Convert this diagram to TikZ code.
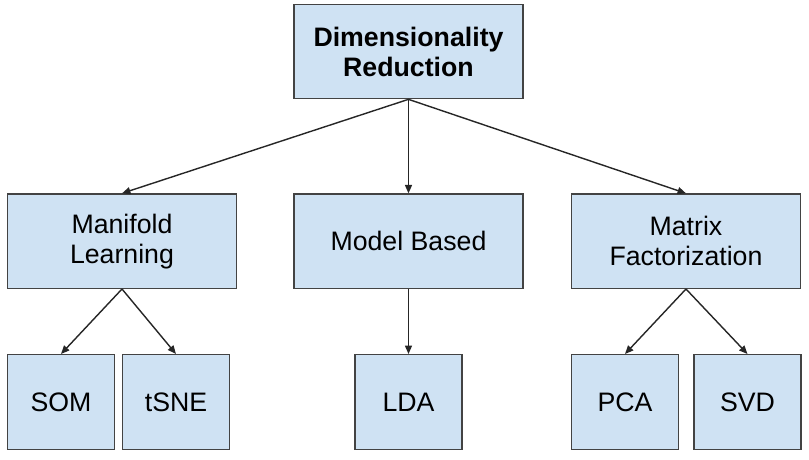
\documentclass[tikz,border=0pt]{standalone}
\usepackage{fontspec}
\setmainfont{Liberation Sans}
\usetikzlibrary{positioning,arrows.meta}
\definecolor{boxfill}{HTML}{CFE2F3}
\definecolor{boxline}{HTML}{434343}

\begin{document}
\begin{tikzpicture}[
    node distance=2.35cm,
    box/.style={draw=boxline, fill=boxfill, line width=0.9pt, minimum width=5.72cm,
      minimum height=2.36cm, align=center, inner sep=0pt,
      font=\fontsize{19}{21.3}\selectfont},
    leaf/.style={box, minimum width=2.68cm, minimum height=2.37cm},
    link/.style={draw=black!85, line width=1pt, -{Triangle[length=6pt,width=5pt]}}
  ]
      \useasboundingbox (-10.2125,1.2875) rectangle (10.0125,-10.1875);
      % Define nodes
      \node[box] (dr) {\textbf{Dimensionality}\\\textbf{Reduction}};
      \node[box, below=of dr] (model) {Model Based};
      \node[box, below=of dr, xshift=-7.1625cm] (manifold) {Manifold\\Learning};
      \node[box, below=of dr, xshift=6.9375cm] (matrix) {Matrix\\Factorization};
      \node[leaf, below=1.625cm of manifold, xshift=-1.525cm] (som) {SOM};
      \node[leaf, below=1.625cm of manifold, xshift=1.35cm] (tsne) {tSNE};
      \node[leaf, below=1.625cm of model] (lda) {LDA};
      \node[leaf, below=1.625cm of matrix, xshift=-1.525cm] (pca) {PCA};
      \node[leaf, below=1.625cm of matrix, xshift=1.5375cm] (svd) {SVD};
      % Connect them
      \draw[link] (dr.south) -- (manifold.north);
      \draw[link] (dr.south) -- (model.north);
      \draw[link] (dr.south) -- (matrix.north);
      \draw[link] (manifold.south) -- (som.north);
      \draw[link] (manifold.south) -- (tsne.north);
      \draw[link] (model.south) -- (lda.north);
      \draw[link] (matrix.south) -- (pca.north);
      \draw[link] (matrix.south) -- (svd.north);
\end{tikzpicture}
\end{document}
